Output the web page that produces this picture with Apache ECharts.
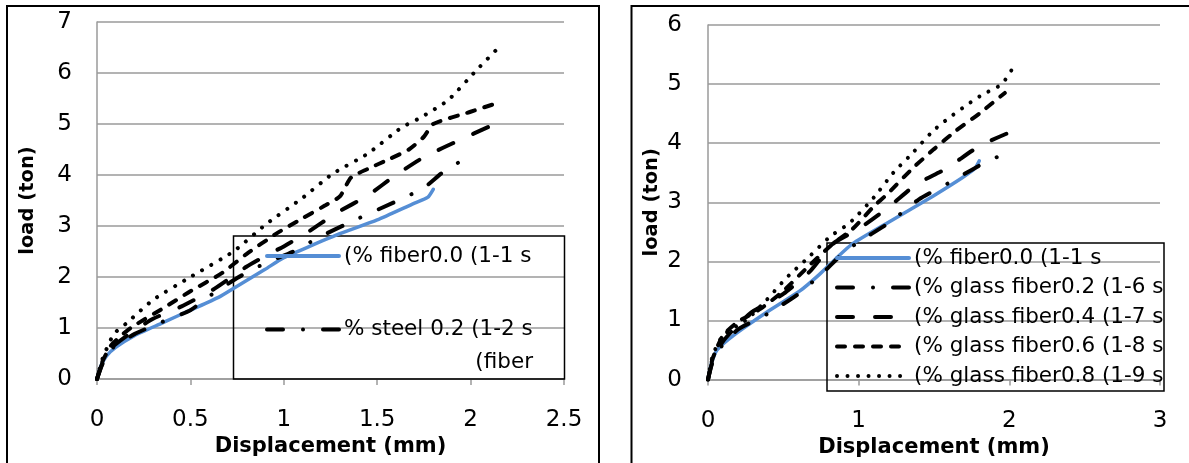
<!DOCTYPE html>
<html><head><meta charset="utf-8">
<script src="https://cdn.jsdelivr.net/npm/echarts@6/dist/echarts.min.js"></script>
<style>html,body{margin:0;padding:0;background:#fff}#c{width:1189px;height:463px}</style>
</head><body><div id="c"></div>
<script>
// ---------- names / ticks ----------
const leftNames = ['(% fiber0.0 (1-1 s', '% steel 0.2 (1-2 s', '% steel 0.4 (1-3 s', '% steel 0.6 (1-4 s', '% steel 0.8 (1-5 s'];
const rightNames = ['(% fiber0.0 (1-1 s', '(% glass fiber0.2 (1-6 s', '(% glass fiber0.4 (1-7 s', '(% glass fiber0.6 (1-8 s', '(% glass fiber0.8 (1-9 s'];
const leftLegendNames = ['(% fiber0.0 (1-1 s', '% steel 0.2 (1-2 s'];
const leftLegendWrap = '(fiber';
const xTitle = 'Displacement (mm)';
const yTitle = 'load (ton)';
const leftX = {min: 0, max: 2.5, interval: 0.5};
const leftY = {min: 0, max: 7, interval: 1};
const rightX = {min: 0, max: 3, interval: 1};
const rightY = {min: 0, max: 6, interval: 1};

// ---------- left chart data (steel) ----------
const left00 = [[0,0],[0.02,0.25],[0.05,0.45],[0.1,0.62],[0.2,0.85],[0.35,1.1],[0.5,1.35],[0.65,1.6],[0.75,1.82],[0.9,2.15],[1.0,2.38],[1.15,2.62],[1.3,2.85],[1.5,3.12],[1.7,3.45],[1.77,3.56],[1.8,3.72]];
const left02 = [[0,0],[0.03,0.3],[0.08,0.6],[0.2,0.88],[0.35,1.12],[0.5,1.35],[0.6,1.62],[0.75,1.98],[0.9,2.27],[1.05,2.5],[1.2,2.8],[1.4,3.15],[1.6,3.48],[1.75,3.75],[1.85,4.05],[1.96,4.3]];
const left04 = [[0,0],[0.03,0.32],[0.08,0.62],[0.18,0.9],[0.3,1.18],[0.45,1.42],[0.62,1.75],[0.8,2.2],[0.92,2.45],[1.0,2.6],[1.12,2.86],[1.28,3.25],[1.45,3.6],[1.6,4.0],[1.75,4.35],[1.95,4.7],[2.1,4.95]];
const left06 = [[0,0],[0.03,0.35],[0.08,0.68],[0.18,1.0],[0.36,1.4],[0.5,1.72],[0.67,2.08],[0.8,2.45],[0.96,2.85],[1.1,3.15],[1.22,3.4],[1.3,3.58],[1.36,3.95],[1.45,4.12],[1.57,4.32],[1.67,4.5],[1.75,4.75],[1.8,5.0],[2.0,5.24],[2.15,5.42]];
const left08 = [[0,0],[0.03,0.4],[0.09,0.88],[0.16,1.1],[0.3,1.55],[0.5,2.0],[0.73,2.5],[0.91,3.05],[1.1,3.55],[1.26,4.02],[1.45,4.42],[1.63,4.93],[1.73,5.12],[1.88,5.47],[2.03,6.05],[2.15,6.5]];

// ---------- right chart data (glass) ----------
const right00 = [[0,0],[0.02,0.25],[0.06,0.5],[0.17,0.75],[0.39,1.14],[0.61,1.5],[0.74,1.78],[0.85,2.05],[0.96,2.3],[1.19,2.65],[1.49,3.1],[1.69,3.42],[1.77,3.57],[1.8,3.7]];
const right02 = [[0,0],[0.03,0.3],[0.1,0.6],[0.2,0.85],[0.4,1.12],[0.6,1.45],[0.78,1.85],[0.88,2.1],[1.0,2.33],[1.2,2.65],[1.4,3.05],[1.6,3.33],[1.8,3.62],[1.93,3.78]];
const right04 = [[0,0],[0.03,0.3],[0.1,0.65],[0.28,1.12],[0.5,1.45],[0.68,1.84],[0.83,2.3],[1.0,2.55],[1.2,2.92],[1.38,3.3],[1.58,3.57],[1.8,3.95],[1.98,4.16]];
const right06 = [[0,0],[0.03,0.35],[0.1,0.75],[0.2,0.98],[0.35,1.2],[0.5,1.5],[0.68,1.95],[0.83,2.3],[0.96,2.55],[1.1,2.93],[1.19,3.14],[1.36,3.58],[1.5,3.9],[1.65,4.22],[1.8,4.5],[1.97,4.85]];
const right08 = [[0,0],[0.03,0.4],[0.1,0.75],[0.26,1.02],[0.39,1.35],[0.52,1.72],[0.68,2.1],[0.81,2.42],[0.94,2.65],[1.1,3.08],[1.23,3.5],[1.36,3.84],[1.49,4.2],[1.6,4.43],[1.72,4.65],[1.82,4.82],[1.95,5.0],[2.03,5.3]];

const leftData = [left00, left02, left04, left06, left08];
const rightData = [right00, right02, right04, right06, right08];

// ---------- styles ----------
const lineStyles = [
  {color: '#558ed5', width: 3.5, type: 'solid', cap: 'round'},
  {color: '#000', width: 4, type: [16, 20, 0.01, 20], cap: 'round'},
  {color: '#000', width: 4, type: [16, 22], cap: 'round'},
  {color: '#000', width: 4, type: [8, 10], cap: 'round'},
  {color: '#000', width: 4, type: [0.01, 10.5], cap: 'round'}
];
const FONT = 'DejaVu Sans';
const gridGray = '#9a9a9a';

function mkSeries(names, data, idx) {
  return data.map((d, i) => ({
    name: names[i], type: 'line', xAxisIndex: idx, yAxisIndex: idx,
    data: d, symbol: 'none', smooth: 0.2,
    lineStyle: lineStyles[i], itemStyle: {color: lineStyles[i].color},
    z: 2 + i
  }));
}
function mkX(idx, r, margin, gap) {
  return {
    gridIndex: idx, type: 'value', min: r.min, max: r.max, interval: r.interval,
    axisLine: {show: true, lineStyle: {color: gridGray, width: 1.5}},
    axisTick: {show: true, length: 6, lineStyle: {color: gridGray, width: 1.5}},
    splitLine: {show: false},
    axisLabel: {margin: margin, fontFamily: FONT, fontSize: 23, color: '#000'},
    name: xTitle, nameLocation: 'middle', nameGap: gap,
    nameTextStyle: {fontFamily: FONT, fontWeight: 'bold', fontSize: 21, color: '#000'}
  };
}
function mkY(idx, r, margin, gap) {
  return {
    gridIndex: idx, type: 'value', min: r.min, max: r.max, interval: r.interval,
    axisLine: {show: true, lineStyle: {color: gridGray, width: 1.5}},
    axisTick: {show: false},
    splitLine: {show: true, lineStyle: {color: gridGray, width: 1.5}},
    axisLabel: {margin: margin, fontFamily: FONT, fontSize: 23, color: '#000'},
    name: yTitle, nameLocation: 'middle', nameGap: gap, nameRotate: 90,
    nameTextStyle: {fontFamily: FONT, fontWeight: 'bold', fontSize: 19.5, color: '#000'}
  };
}
const legendText = {fontFamily: FONT, fontSize: 21.5, color: '#000'};
const legendLine = {width: 4};

const chart = echarts.init(document.getElementById('c'), null, {renderer: 'canvas'});
chart.setOption({
  animation: false,
  backgroundColor: '#fff',
  grid: [
    {left: 97, top: 22, width: 467, height: 357},
    {left: 708, top: 25, width: 452, height: 367}
  ],
  xAxis: [mkX(0, leftX, 29.5, 57), mkX(1, rightX, 29.5, 44)],
  yAxis: [mkY(0, leftY, 25, 59), mkY(1, rightY, 26, 46)],
  legend: [
    {data: leftLegendNames, orient: 'vertical', left: 265, top: 245, padding: 0,
     itemWidth: 72, itemHeight: 14, itemGap: 51.5, selectedMode: false,
     itemStyle: {opacity: 0}, lineStyle: legendLine, textStyle: legendText},
    {data: rightNames, orient: 'vertical', left: 835, top: 247, padding: 0,
     itemWidth: 72, itemHeight: 14, itemGap: 7.5, selectedMode: false,
     itemStyle: {opacity: 0}, lineStyle: legendLine, textStyle: legendText}
  ],
  graphic: [
    {type: 'rect', shape: {x: 7, y: 6, width: 592, height: 480}, style: {fill: 'none', stroke: '#000', lineWidth: 2}, z: 100},
    {type: 'rect', shape: {x: 631.5, y: 6, width: 600, height: 480}, style: {fill: 'none', stroke: '#000', lineWidth: 2}, z: 100},
    {type: 'rect', shape: {x: 233.5, y: 236, width: 331, height: 143}, style: {fill: 'none', stroke: '#000', lineWidth: 1.5}, z: 1},
    {type: 'rect', shape: {x: 827, y: 243, width: 337, height: 148}, style: {fill: 'none', stroke: '#000', lineWidth: 1.5}, z: 1},
    {type: 'text', x: 533, y: 362, style: {text: leftLegendWrap, fontFamily: FONT, fontSize: 21.5, fill: '#000', align: 'right', verticalAlign: 'middle'}}
  ],
  series: mkSeries(leftNames, leftData, 0).concat(mkSeries(rightNames, rightData, 1))
});
</script></body></html>
